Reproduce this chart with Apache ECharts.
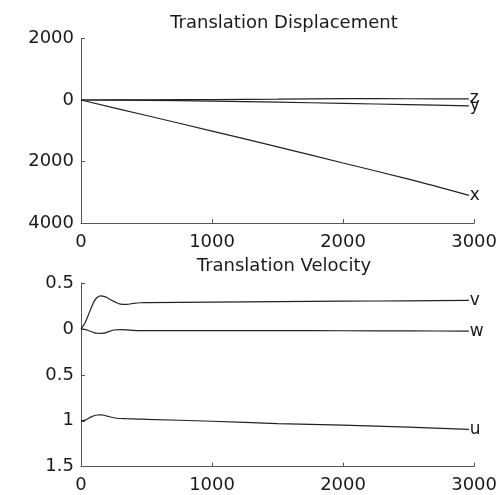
<!DOCTYPE html>
<html>
<head>
<meta charset="utf-8">
<script src="https://cdn.jsdelivr.net/npm/echarts@6/dist/echarts.min.js"></script>
<style>
  html, body { margin: 0; padding: 0; background: #fff; }
  #chart { width: 500px; height: 495px; }
</style>
</head>
<body>
<div id="chart"></div>
<script>
// Translation displacement (top panel)
const dispTime = [0, 500, 1000, 1500, 2000, 2500, 2960];
const dispX = [0, -505, -1010, -1525, -2050, -2575, -3100];
const dispY = [0, -10, -35, -70, -110, -150, -190];
const dispZ = [0, 5, 15, 30, 45, 40, 35];

// Translation velocity (bottom panel)
const velTime = [0, 25, 50, 75, 100, 125, 150, 175, 200, 250, 300, 350, 400, 450, 500, 1000, 1500, 2000, 2500, 2960];
const velU = [-1.0, -0.995, -0.98, -0.96, -0.945, -0.937, -0.935, -0.94, -0.95, -0.967, -0.975, -0.978, -0.98, -0.982, -0.984, -1.005, -1.03, -1.047, -1.07, -1.094];
const velV = [0, 0.05, 0.13, 0.22, 0.30, 0.345, 0.36, 0.355, 0.34, 0.30, 0.27, 0.268, 0.278, 0.285, 0.286, 0.292, 0.297, 0.302, 0.306, 0.31];
const velW = [0, -0.005, -0.015, -0.028, -0.04, -0.047, -0.048, -0.045, -0.035, -0.012, -0.007, -0.01, -0.016, -0.018, -0.018, -0.018, -0.019, -0.02, -0.022, -0.024];

// Tick values and the labels printed beside them
const dispTicks = [-4000, -2000, 0, 2000];
const dispTickLabels = ['4000', '2000', '0', '2000'];
const velTicks = [-1.5, -1, -0.5, 0, 0.5];
const velTickLabels = ['1.5', '1', '0.5', '0', '0.5'];
const timeTicks = [0, 1000, 2000, 3000];
const timeTickLabels = ['0', '1000', '2000', '3000'];

const FONT = 'DejaVu Sans';
const TEXT = '#1a1a1a';
const AXIS = '#555';
const LINE = '#222';

function pair(t, v) { return t.map((x, i) => [x, v[i]]); }
function lookup(ticks, labels) {
  return function (val) {
    for (let i = 0; i < ticks.length; i++) {
      if (Math.abs(ticks[i] - val) < 1e-9) return labels[i];
    }
    return '';
  };
}

function xAxis(gridIndex) {
  return {
    gridIndex, type: 'value', min: 0, max: 3000, interval: 1000,
    splitLine: { show: false },
    axisLine: { show: true, onZero: false, lineStyle: { color: AXIS, width: 1 } },
    axisTick: { show: true, inside: true, length: 4, lineStyle: { color: AXIS } },
    axisLabel: { color: TEXT, fontFamily: FONT, fontSize: 18, margin: 10,
      formatter: lookup(timeTicks, timeTickLabels) }
  };
}
function yAxis(gridIndex, min, max, interval, ticks, labels) {
  return {
    gridIndex, type: 'value', min, max, interval,
    splitLine: { show: false },
    axisLine: { show: true, onZero: false, lineStyle: { color: AXIS, width: 1 } },
    axisTick: { show: true, inside: true, length: 4, lineStyle: { color: AXIS } },
    axisLabel: { color: TEXT, fontFamily: FONT, fontSize: 18, margin: 7,
      formatter: lookup(ticks, labels) }
  };
}
function line(name, xi, data) {
  return {
    name, type: 'line', xAxisIndex: xi, yAxisIndex: xi, data,
    smooth: 0.3, showSymbol: false, silent: true,
    lineStyle: { color: LINE, width: 1.2 },
    endLabel: { show: true, formatter: name, distance: 1,
      color: TEXT, fontFamily: FONT, fontSize: 17 },
    labelLayout: { hideOverlap: false },
    animation: false
  };
}

const chart = echarts.init(document.getElementById('chart'), null, { renderer: 'canvas' });
chart.setOption({
  animation: false,
  backgroundColor: '#fff',
  title: [
    { text: 'Translation Displacement', left: 279, top: 9, textAlign: 'center',
      textStyle: { fontFamily: FONT, fontSize: 18, fontWeight: 'normal', color: TEXT } },
    { text: 'Translation Velocity', left: 279, top: 252, textAlign: 'center',
      textStyle: { fontFamily: FONT, fontSize: 18, fontWeight: 'normal', color: TEXT } }
  ],
  grid: [
    { left: 81, right: 23, top: 38.5, bottom: 272 },
    { left: 81, right: 23, top: 283, bottom: 28.3 }
  ],
  xAxis: [xAxis(0), xAxis(1)],
  yAxis: [
    yAxis(0, -4000, 2000, 2000, dispTicks, dispTickLabels),
    yAxis(1, -1.5, 0.5, 0.5, velTicks, velTickLabels)
  ],
  series: [
    line('z', 0, pair(dispTime, dispZ)),
    line('y', 0, pair(dispTime, dispY)),
    line('x', 0, pair(dispTime, dispX)),
    line('v', 1, pair(velTime, velV)),
    line('w', 1, pair(velTime, velW)),
    line('u', 1, pair(velTime, velU))
  ]
});
</script>
</body>
</html>
